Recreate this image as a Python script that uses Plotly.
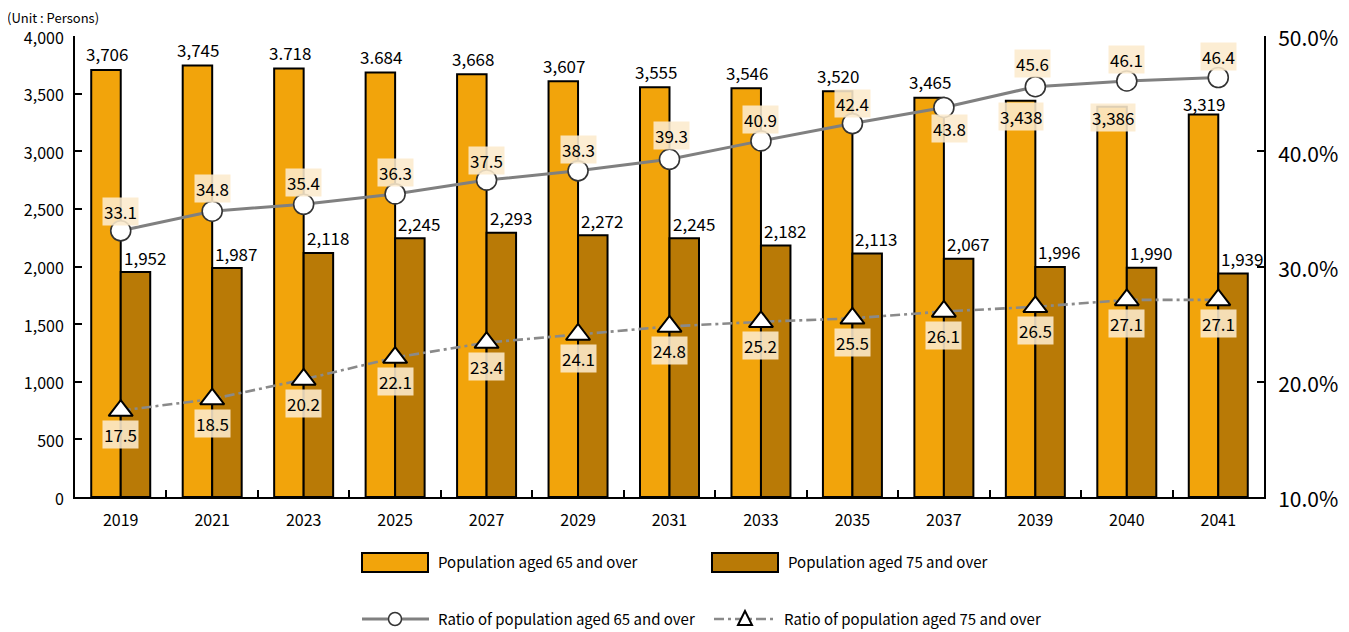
import plotly.graph_objects as go

# ---------------- data ----------------
years = ['2019', '2021', '2023', '2025', '2027', '2029', '2031', '2033', '2035', '2037', '2039', '2040', '2041']
pop65 = [3706, 3745, 3718, 3684, 3668, 3607, 3555, 3546, 3520, 3465, 3438, 3386, 3319]
pop75 = [1952, 1987, 2118, 2245, 2293, 2272, 2245, 2182, 2113, 2067, 1996, 1990, 1939]
ratio65 = [33.1, 34.8, 35.4, 36.3, 37.5, 38.3, 39.3, 40.9, 42.4, 43.8, 45.6, 46.1, 46.4]
ratio75 = [17.5, 18.5, 20.2, 22.1, 23.4, 24.1, 24.8, 25.2, 25.5, 26.1, 26.5, 27.1, 27.1]
# labels as printed in the source (two use a period as separator)
pop65_text = ['3,706', '3,745', '3.718', '3.684', '3,668', '3,607', '3,555', '3,546', '3,520', '3,465', '3,438', '3,386', '3,319']

name65 = 'Population aged 65 and over'
name75 = 'Population aged 75 and over'
nameR65 = 'Ratio of population aged 65 and over'
nameR75 = 'Ratio of population aged 75 and over'

# ---------------- style ----------------
OFF = 8                      # default page body margin
PAGE_W, PAGE_H = 1349, 632
W, H = PAGE_W - OFF, PAGE_H - OFF
ML, MR, MT, MB = 75 - OFF, 85, 36 - OFF, 135
PW, PH = W - ML - MR, H - MT - MB
FONT = 'Noto Sans CJK KR'
ORANGE = '#F2A40B'
BROWN = '#B97A06'
BEIGE = 'rgba(252,234,205,0.88)'
GRAY = '#808080'


def px(x):
    """page x pixel -> paper"""
    return (x - 75) / PW


def py(y):
    """page y pixel -> paper"""
    return (PAGE_H - MB - y) / PH


fig = go.Figure()
fig.add_bar(x=years, y=pop65, name=name65, showlegend=False,
            marker=dict(color=ORANGE, line=dict(color='black', width=2)))
fig.add_bar(x=years, y=pop75, name=name75, showlegend=False,
            marker=dict(color=BROWN, line=dict(color='black', width=2)))
fig.add_scatter(x=years, y=ratio65, name=nameR65, yaxis='y2', mode='lines+markers', showlegend=False,
                line=dict(color=GRAY, width=3),
                marker=dict(symbol='circle', size=20, color='white', line=dict(color='#333333', width=1.6)))
fig.add_scatter(x=years, y=ratio75, name=nameR75, yaxis='y2', mode='lines+markers', showlegend=False,
                line=dict(color='#8a8a8a', width=2.6, dash='10px,4px,3px,4px'),
                marker=dict(symbol='triangle-up', size=21, color='white', line=dict(color='black', width=2)))

ann = []
lab_font = dict(family=FONT, size=17, color='black')
# orange bar labels
o_shift = [16, 16, 16, 16, 16, 16, 16, 16, 16, 16, -16, -11, 11]
for i, (v, t) in enumerate(zip(pop65, pop65_text)):
    a = dict(x=i, y=v, xref='x', yref='y', text=t, showarrow=False, font=lab_font,
             xshift=-14, yshift=o_shift[i])
    if o_shift[i] < 0:
        a.update(bgcolor=BEIGE, borderpad=1)
    ann.append(a)
# brown bar labels
for i, v in enumerate(pop75):
    ann.append(dict(x=i, y=v, xref='x', yref='y', text=f'{v:,}', showarrow=False, font=lab_font,
                    xshift=24, yshift=15))
# ratio 65 labels
r65_shift = [19, 23, 22, 21, 20, 21, 24, 21, 20, -21, 23, 21, 21]
r65_x = [0, 0, 0, 0, 0, 0, 2, 0, 0, 6, -3, 0, 0]
for i, v in enumerate(ratio65):
    ann.append(dict(x=i, y=v, xref='x', yref='y2', text=f'{v:.1f}', showarrow=False, font=lab_font,
                    xshift=r65_x[i], yshift=r65_shift[i], bgcolor=BEIGE, borderpad=1))
# ratio 75 labels
for i, v in enumerate(ratio75):
    ann.append(dict(x=i, y=v, xref='x', yref='y2', text=f'{v:.1f}', showarrow=False, font=lab_font,
                    yshift=-24, bgcolor=BEIGE, borderpad=1))

# unit label
ann.append(dict(x=px(5), y=py(17), xref='paper', yref='paper', xanchor='left', yanchor='middle',
                text='(Unit : Persons)', showarrow=False, font=dict(family=FONT, size=13, color='black')))

# ---------------- manual legend ----------------
leg_font = dict(family=FONT, size=15, color='black')
shapes = []
# row 1: bars
for x0, col, nm in [(362, ORANGE, name65), (712, BROWN, name75)]:
    shapes.append(dict(type='rect', xref='paper', yref='paper', x0=px(x0), x1=px(x0 + 66),
                       y0=py(572), y1=py(553), fillcolor=col, line=dict(color='black', width=2)))
    ann.append(dict(x=px(x0 + 74), y=py(561), xref='paper', yref='paper', xanchor='left', yanchor='middle',
                    text=nm, showarrow=False, font=leg_font))
# row 2: lines
shapes.append(dict(type='line', xref='paper', yref='paper', x0=px(362), x1=px(429), y0=py(619), y1=py(619),
                   line=dict(color=GRAY, width=3)))
shapes.append(dict(type='circle', xref='paper', yref='paper', x0=px(388.5), x1=px(401.5), y0=py(625.5), y1=py(612.5),
                   fillcolor='white', line=dict(color='#333333', width=1.5)))
ann.append(dict(x=px(436), y=py(618), xref='paper', yref='paper', xanchor='left', yanchor='middle',
                text=nameR65, showarrow=False, font=leg_font))
shapes.append(dict(type='line', xref='paper', yref='paper', x0=px(714), x1=px(776), y0=py(619), y1=py(619),
                   line=dict(color='#8a8a8a', width=2.6, dash='10px,4px,3px,4px')))
tri = f'M {px(745)} {py(611)} L {px(738)} {py(625)} L {px(752)} {py(625)} Z'
shapes.append(dict(type='path', xref='paper', yref='paper', path=tri, fillcolor='white',
                   line=dict(color='black', width=2)))
ann.append(dict(x=px(782), y=py(618), xref='paper', yref='paper', xanchor='left', yanchor='middle',
                text=nameR75, showarrow=False, font=leg_font))

fig.update_layout(
    width=W, height=H,
    margin=dict(l=ML, r=MR, t=MT, b=MB, pad=0),
    paper_bgcolor='white', plot_bgcolor='white',
    barmode='group', bargap=0.355, bargroupgap=0,
    font=dict(family=FONT, color='black'),
    xaxis=dict(type='category', range=[-0.5, 12.5], tickson='boundaries', ticks='inside', ticklen=7,
               tickwidth=2, tickcolor='black', showline=True, linewidth=2, linecolor='black',
               showgrid=False, tickfont=dict(family=FONT, size=16), ticklabelstandoff=8),
    yaxis=dict(range=[0, 4000], dtick=500, tickformat=',', ticks='inside', ticklen=7, tickwidth=2,
               tickcolor='black', showline=True, linewidth=2, linecolor='black', showgrid=False,
               zeroline=False, tickfont=dict(family=FONT, size=16), ticklabelstandoff=6,
               ticklabelshift=2),
    yaxis2=dict(range=[10, 50], dtick=10, tickformat='.1f', ticksuffix='%', overlaying='y', side='right',
                ticks='inside', ticklen=7, tickwidth=2, tickcolor='black', showline=True, linewidth=2,
                linecolor='black', showgrid=False, zeroline=False, tickfont=dict(family=FONT, size=21),
                ticklabelstandoff=8, ticklabelshift=3),
    annotations=ann,
    shapes=shapes,
)

fig.write_html('out.html')
